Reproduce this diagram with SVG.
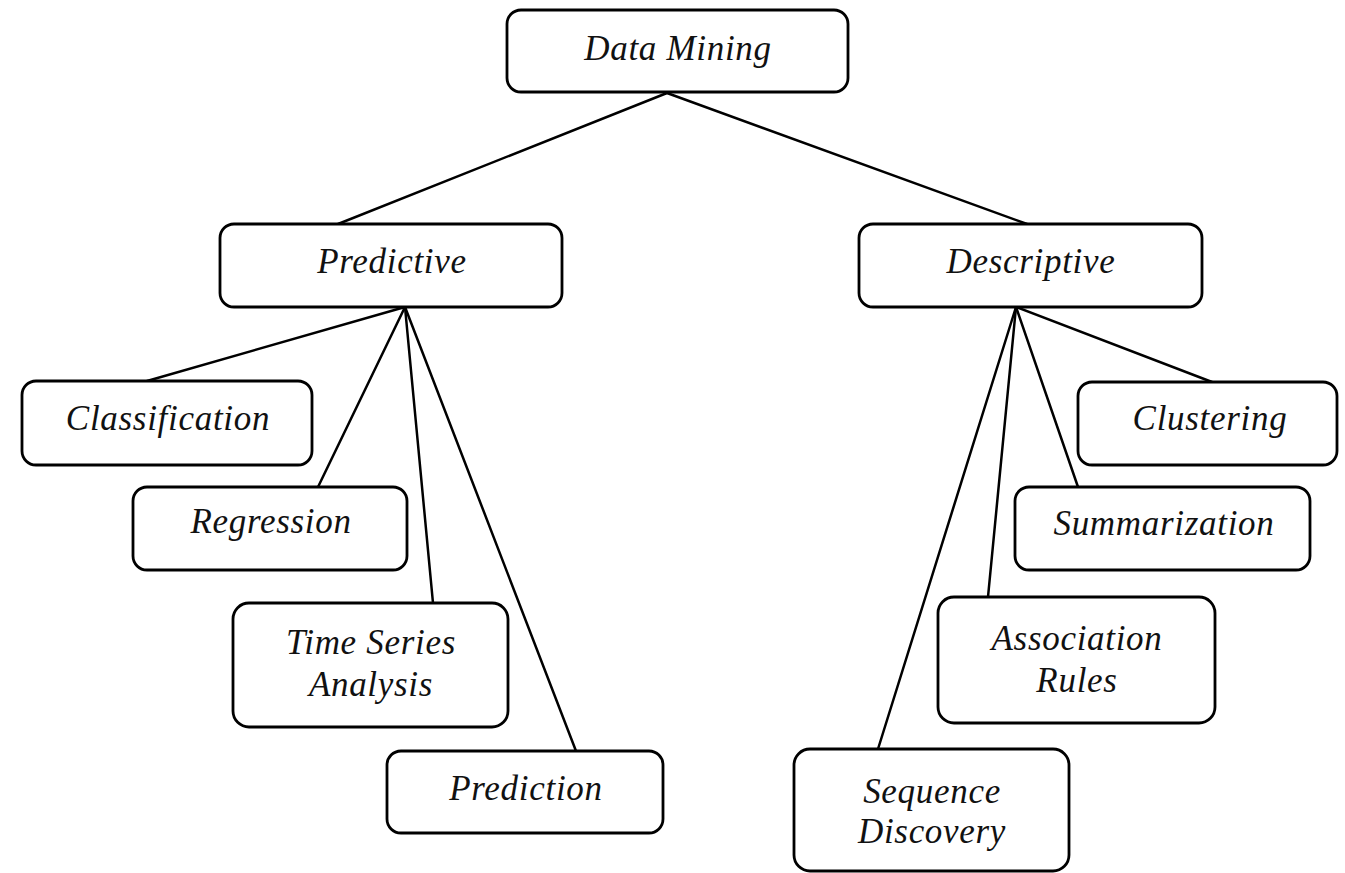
<svg xmlns="http://www.w3.org/2000/svg" width="1345" height="873" viewBox="0 0 1345 873">
<style>
.box{fill:#fff;stroke:#000;stroke-width:2.8}
.lbl{font-family:"Liberation Serif","Times New Roman",serif;font-style:italic;font-size:35px;letter-spacing:0.7px;text-anchor:middle;fill:#111}
.conn line{stroke:#000;stroke-width:2.5;stroke-linecap:round}
</style>
<rect width="1345" height="873" fill="#fff"/>
<g class="conn" id="connectors">
<line x1="667" y1="93" x2="338" y2="224"/>
<line x1="667" y1="93" x2="1027" y2="224"/>
<line x1="405" y1="307" x2="147" y2="381"/>
<line x1="405" y1="307" x2="318" y2="487"/>
<line x1="405" y1="307" x2="433" y2="603"/>
<line x1="405" y1="307" x2="576" y2="751"/>
<line x1="1016" y1="307" x2="1212" y2="382"/>
<line x1="1016" y1="307" x2="1078" y2="487"/>
<line x1="1016" y1="307" x2="988" y2="597"/>
<line x1="1016" y1="307" x2="878" y2="749"/>
</g>
<g id="data-mining"><rect class="box" x="507" y="10" width="341" height="82" rx="14"/><text class="lbl" x="678" y="60">Data Mining</text></g>
<g id="predictive"><rect class="box" x="220" y="224" width="342" height="83" rx="14"/><text class="lbl" x="392" y="273">Predictive</text></g>
<g id="descriptive"><rect class="box" x="859" y="224" width="343" height="83" rx="14"/><text class="lbl" x="1031" y="273">Descriptive</text></g>
<g id="classification"><rect class="box" x="22" y="381" width="290" height="84" rx="14"/><text class="lbl" x="168" y="430">Classification</text></g>
<g id="regression"><rect class="box" x="133" y="487" width="274" height="83" rx="14"/><text class="lbl" x="271" y="533">Regression</text></g>
<g id="time-series"><rect class="box" x="233" y="603" width="275" height="124" rx="16"/><text class="lbl" x="371" y="654">Time Series</text><text class="lbl" x="371" y="696">Analysis</text></g>
<g id="prediction"><rect class="box" x="387" y="751" width="276" height="82" rx="14"/><text class="lbl" x="526" y="800">Prediction</text></g>
<g id="clustering"><rect class="box" x="1078" y="382" width="259" height="83" rx="14"/><text class="lbl" x="1210" y="430">Clustering</text></g>
<g id="summarization"><rect class="box" x="1015" y="487" width="295" height="83" rx="14"/><text class="lbl" x="1164" y="535">Summarization</text></g>
<g id="association-rules"><rect class="box" x="938" y="597" width="277" height="126" rx="16"/><text class="lbl" x="1077" y="650">Association</text><text class="lbl" x="1077" y="692">Rules</text></g>
<g id="sequence-discovery"><rect class="box" x="794" y="749" width="275" height="122" rx="16"/><text class="lbl" x="932" y="803">Sequence</text><text class="lbl" x="932" y="843">Discovery</text></g>
</svg>
